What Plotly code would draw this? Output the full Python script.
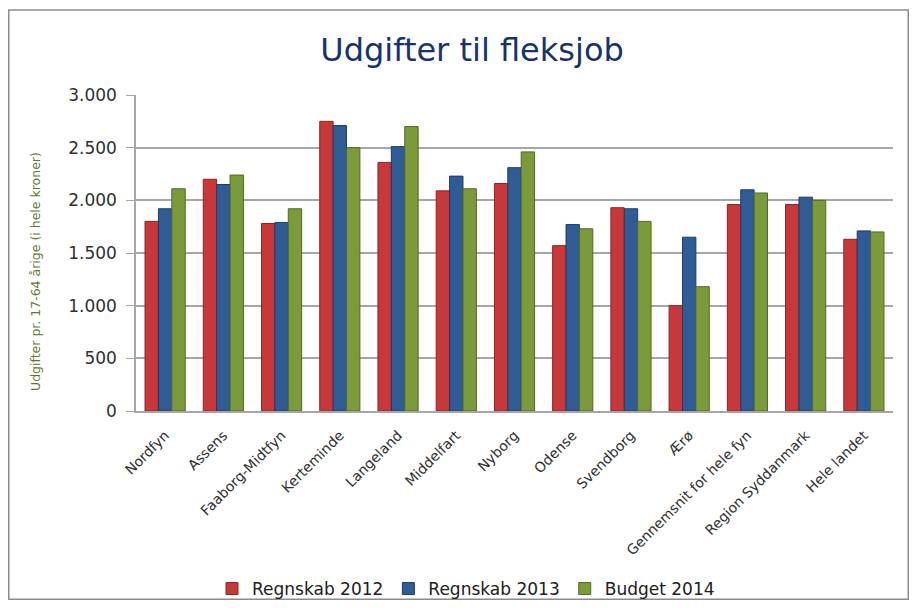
import plotly.graph_objects as go

categories = ["Nordfyn", "Assens", "Faaborg-Midtfyn", "Kerteminde", "Langeland",
              "Middelfart", "Nyborg", "Odense", "Svendborg", "Ærø",
              "Gennemsnit for hele fyn", "Region Syddanmark", "Hele landet"]
regnskab_2012 = [1800, 2200, 1780, 2750, 2360, 2090, 2160, 1570, 1930, 1000, 1960, 1960, 1630]
regnskab_2013 = [1920, 2150, 1790, 2710, 2510, 2230, 2310, 1770, 1920, 1650, 2100, 2030, 1710]
budget_2014 = [2110, 2240, 1920, 2500, 2700, 2110, 2460, 1730, 1800, 1180, 2070, 2000, 1700]
series_names = ["Regnskab 2012", "Regnskab 2013", "Budget 2014"]
tick_vals = [0, 500, 1000, 1500, 2000, 2500, 3000]
tick_text = ["0", "500", "1.000", "1.500", "2.000", "2.500", "3.000"]

colors = ["#C8383A", "#305C96", "#7A9A3C"]
edge = ["#8E2325", "#1E3C63", "#516A26"]

# figure is placed 8px from the window edge by the page's default body margin
W, H = 901, 592
L, R, T, B = 128, 16, 87, 189
pw, ph = W - L - R, H - T - B

def px_to_paper_x(px):
    return (px - L) / pw

def px_to_paper_y(py):
    return (H - B - py) / ph

fig = go.Figure()
for name, vals, c, e in zip(series_names, [regnskab_2012, regnskab_2013, budget_2014], colors, edge):
    fig.add_trace(go.Bar(x=categories, y=vals, name=name,
                         marker=dict(color=c, line=dict(color=e, width=1))))

font_family = "'DejaVu Sans', sans-serif"
fig.update_layout(
    template="none",
    width=W, height=H,
    margin=dict(l=L, r=R, t=T, b=B, pad=0),
    paper_bgcolor="white", plot_bgcolor="white",
    barmode="group", bargap=0.31, bargroupgap=0.0,
    font=dict(family=font_family, color="#404040"),
    title=dict(text="Udgifter til fleksjob", x=464 / W, xanchor="center",
               y=1 - 42 / H, yanchor="middle",
               font=dict(size=32, color="#17336E", family=font_family)),
    showlegend=True,
    legend=dict(orientation="h", xref="container", yref="container",
                x=458 / W, xanchor="center",
                y=1 - 581 / H, yanchor="middle",
                bgcolor="rgba(0,0,0,0)", borderwidth=0,
                font=dict(size=17, color="#202020"), itemwidth=30, traceorder="normal"),
    yaxis=dict(range=[0, 3000], tickvals=tick_vals, ticktext=tick_text, automargin=False,
               tickfont=dict(size=17, color="#303030"),
               showgrid=True, gridcolor="#A6A6A6", gridwidth=1.5,
               ticks="outside", ticklen=8, tickcolor="#A6A6A6", ticklabelstandoff=6,
               showline=True, linecolor="#A6A6A6", linewidth=1.5,
               zeroline=False),
    xaxis=dict(tickangle=-45, tickfont=dict(size=14, color="#303030"), automargin=False,
               showline=True, linecolor="#A6A6A6", linewidth=1.5,
               ticks="", showgrid=False, ticklabelstandoff=9),
    annotations=[dict(text="Udgifter pr. 17-64 årige (i hele kroner)", textangle=-90,
                      xref="paper", yref="paper", x=px_to_paper_x(27), y=px_to_paper_y(264),
                      xanchor="center", yanchor="middle", showarrow=False,
                      font=dict(size=12.5, color="#5E7A2E", family=font_family))],
    shapes=[dict(type="rect", xref="paper", yref="paper",
                 x0=px_to_paper_x(0.75), x1=px_to_paper_x(900.25),
                 y0=px_to_paper_y(591.25), y1=px_to_paper_y(2),
                 line=dict(color="#8C8C8C", width=1.5), fillcolor="rgba(0,0,0,0)", layer="below")],
)

fig.write_html("out.html")
